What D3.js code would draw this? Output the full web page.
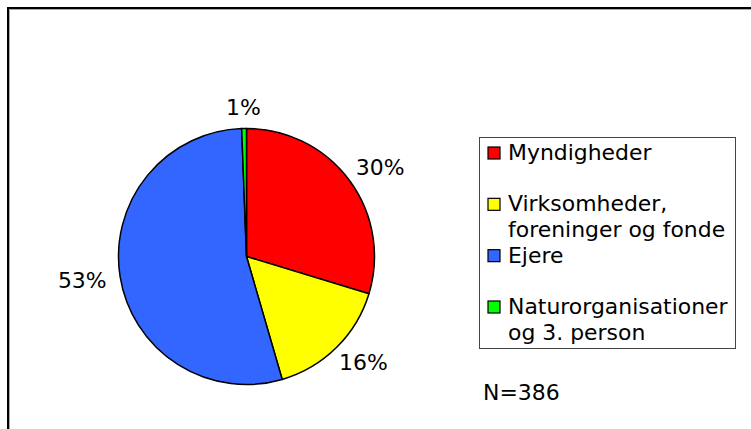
<!DOCTYPE html>
<html>
<head>
<meta charset="utf-8">
<script src="https://cdn.jsdelivr.net/npm/d3@7"></script>
<style>
  html, body { margin: 0; padding: 0; background: #fff; }
  svg { display: block; }
  text { font-family: "DejaVu Sans", Verdana, sans-serif; fill: #000; }
</style>
</head>
<body>
<svg id="chart" width="751" height="429"></svg>
<script>
// ---- data ----
const categories = ["Myndigheder", "Virksomheder, foreninger og fonde", "Ejere", "Naturorganisationer og 3. person"];
const legendLines = [["Myndigheder"], ["Virksomheder,", "foreninger og fonde"], ["Ejere"], ["Naturorganisationer", "og 3. person"]];
const values = [29.7, 15.8, 53.9, 0.6];
const pctLabels = ["30%", "16%", "53%", "1%"];
const colors = ["#FF0000", "#FFFF00", "#3366FF", "#00FF00"];
const noteText = "N=386";

// ---- layout ----
const W = 751, H = 429;
const svg = d3.select("#chart");
const fontSize = 20.5;
const sx = 1.07; // horizontal stretch of the original text

function stretched(sel, x, y) {
  return sel.attr("transform", `translate(${x},${y}) scale(${sx},1)`);
}

// outer frame (extends beyond right & bottom)
svg.append("path").attr("d", `M9.5,${H+5} V9.5 H${W+5}`).attr("fill", "none").attr("stroke", "#aaa").attr("stroke-width", 1);
svg.append("path").attr("d", `M8,${H+5} V8 H${W+5}`).attr("fill", "none").attr("stroke", "#000").attr("stroke-width", 2);

// pie
const cx = 246.5, cy = 256.5, r = 128;
const pie = d3.pie().sort(null).value(d => d)(values);
const arc = d3.arc().innerRadius(0).outerRadius(r);
const g = svg.append("g").attr("transform", `translate(${cx},${cy})`);
g.selectAll("path.slice").data(pie).join("path")
  .attr("class", "slice")
  .attr("d", arc)
  .attr("fill", (d, i) => colors[i])
  .attr("stroke", "#000")
  .attr("stroke-width", 1.5)
  .attr("stroke-linejoin", "round");

// labels outside the pie
const labelR = 142;
const capH = fontSize * 0.73;
g.selectAll("text.pct").data(pie).join("text")
  .attr("class", "pct")
  .attr("font-size", fontSize)
  .attr("text-anchor", "middle")
  .text((d, i) => pctLabels[i])
  .each(function(d) {
    const a = (d.startAngle + d.endAngle) / 2;
    const s = Math.sin(a), c = -Math.cos(a);
    const w = this.getComputedTextLength() * sx;
    const mx = labelR * s + s * w / 2;
    const my = labelR * c + c * capH / 2;
    stretched(d3.select(this), mx, my + capH / 2);
  });

// legend
svg.append("rect").attr("x", 479.5).attr("y", 137.5).attr("width", 256).attr("height", 211)
  .attr("fill", "#fff").attr("stroke", "#444").attr("stroke-width", 1);

const ly = d3.scaleLinear().domain([0, categories.length - 1]).range([160, 314]);
const lg = svg.append("g").selectAll("g.item").data(categories).join("g").attr("class", "item");
lg.append("rect")
  .attr("x", 488).attr("y", (d, i) => ly(i) - 13)
  .attr("width", 12).attr("height", 12)
  .attr("fill", (d, i) => colors[i]).attr("stroke", "#000").attr("stroke-width", 1.2);
lg.append("text")
  .attr("font-size", fontSize)
  .each(function(d, i) { stretched(d3.select(this), 508, ly(i)); })
  .selectAll("tspan").data((d, i) => legendLines[i]).join("tspan")
  .attr("x", 0).attr("dy", (d, j) => j === 0 ? 0 : 25.6)
  .text(d => d);

// note
stretched(svg.append("text").attr("font-size", fontSize).text(noteText), 483, 400);
</script>
</body>
</html>
